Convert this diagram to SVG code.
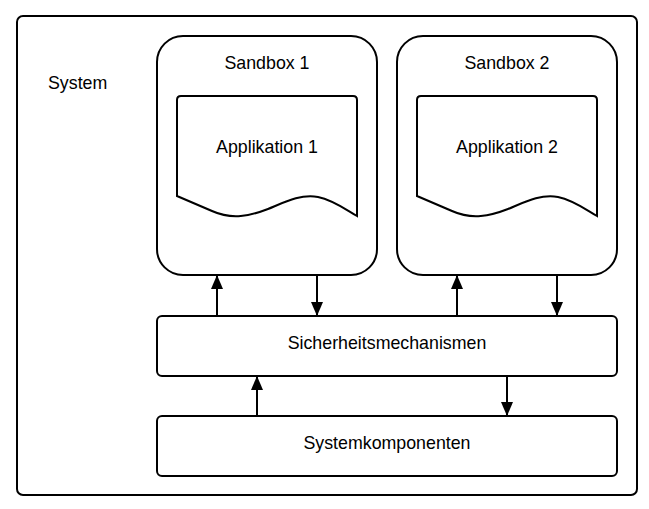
<svg xmlns="http://www.w3.org/2000/svg" width="649" height="509" viewBox="0 0 649 509">
<style>
.b{fill:#fff;stroke:#000;stroke-width:2}
.t{font-family:"Liberation Sans",Arial,sans-serif;font-size:17.8px;fill:#000}
.m{text-anchor:middle}
.c{stroke:#000;stroke-width:2;fill:none}
</style>
<defs>
<marker id="ah" viewBox="0 0 14 12" refX="14" refY="6" markerWidth="14" markerHeight="12" markerUnits="userSpaceOnUse" orient="auto">
<path d="M0,0 L14,6 L0,12 Z" fill="#000"/>
</marker>
</defs>
<rect width="649" height="509" fill="#fff"/>
<g id="system">
<rect class="b" x="17" y="16" width="620" height="479" rx="6"/>
<text class="t" x="48" y="89">System</text>
</g>
<g id="sandbox1">
<rect class="b" x="157" y="36" width="220" height="239" rx="26"/>
<text class="t m" x="267" y="69">Sandbox 1</text>
</g>
<g id="app1">
<path class="b" d="M177,196 L177,100 Q177,96 181,96 L353,96 Q357,96 357,100 L357,216 C345,209 333,200 318,197 C300,194 285,202 268,209 C250,216 232,220 212,211 Z"/>
<text class="t m" x="267" y="153">Applikation 1</text>
</g>
<g id="sandbox2">
<rect class="b" x="397" y="36" width="220" height="239" rx="26"/>
<text class="t m" x="507" y="69">Sandbox 2</text>
</g>
<g id="app2">
<path class="b" d="M417,196 L417,100 Q417,96 421,96 L593,96 Q597,96 597,100 L597,216 C585,209 573,200 558,197 C540,194 525,202 508,209 C490,216 472,220 452,211 Z"/>
<text class="t m" x="507" y="153">Applikation 2</text>
</g>
<g id="sicherheit">
<rect class="b" x="157" y="316" width="460" height="60" rx="5"/>
<text class="t m" x="387" y="349">Sicherheitsmechanismen</text>
</g>
<g id="systemkomp">
<rect class="b" x="157" y="416" width="460" height="60" rx="5"/>
<text class="t m" x="387" y="449">Systemkomponenten</text>
</g>
<g id="connectors">
<line class="c" x1="217" y1="316" x2="217" y2="275" marker-end="url(#ah)"/>
<line class="c" x1="317" y1="275" x2="317" y2="316" marker-end="url(#ah)"/>
<line class="c" x1="457" y1="316" x2="457" y2="275" marker-end="url(#ah)"/>
<line class="c" x1="557" y1="275" x2="557" y2="316" marker-end="url(#ah)"/>
<line class="c" x1="257" y1="416" x2="257" y2="376" marker-end="url(#ah)"/>
<line class="c" x1="507" y1="376" x2="507" y2="416" marker-end="url(#ah)"/>
</g>
</svg>
